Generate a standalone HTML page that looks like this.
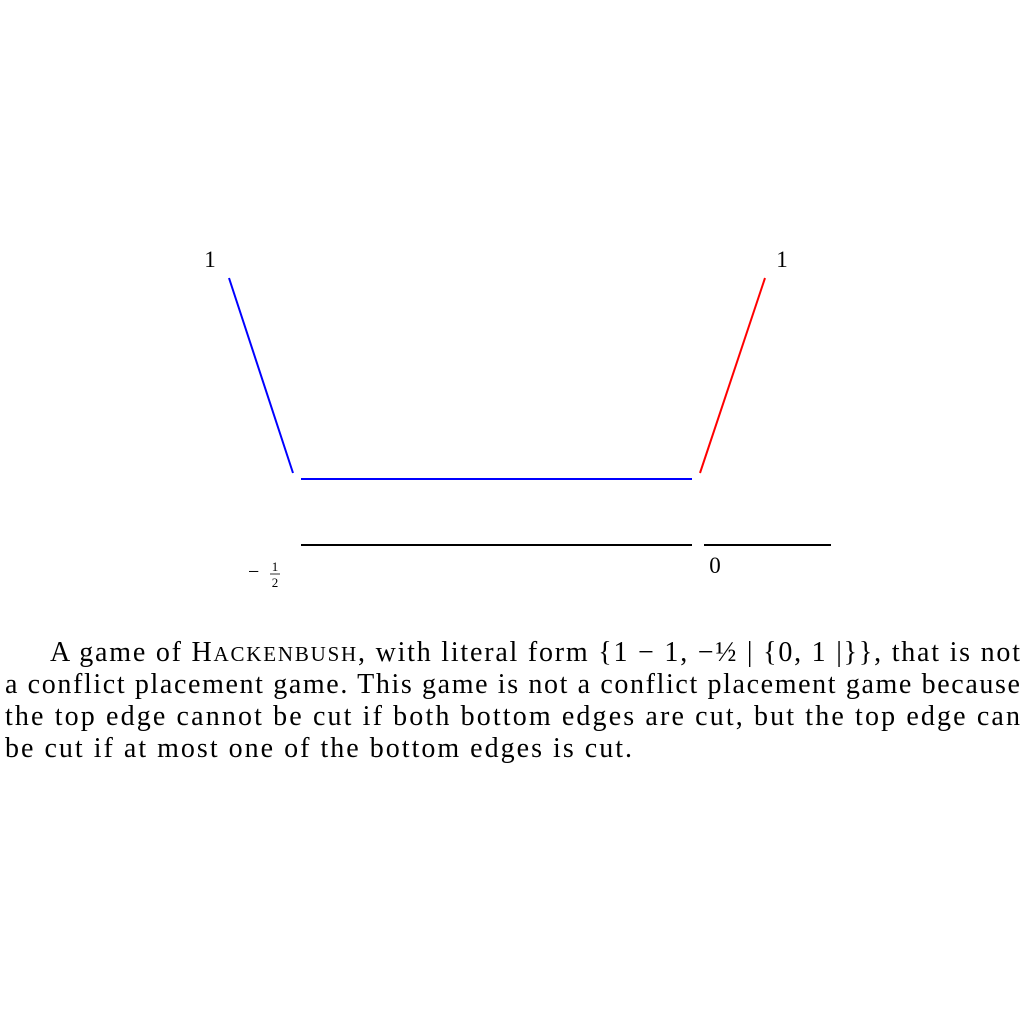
<!DOCTYPE html>
<html><head><meta charset="utf-8"><style>
html,body{margin:0;padding:0;background:#fff;width:1024px;height:1024px;overflow:hidden}
svg{display:block}
text{font-family:"Liberation Serif",serif;fill:#000}
</style></head><body>
<svg width="1024" height="1024" viewBox="0 0 1024 1024">
<line x1="229" y1="278" x2="293" y2="473" stroke="#0000ff" stroke-width="2"/>
<line x1="301" y1="479" x2="692" y2="479" stroke="#0000ff" stroke-width="2"/>
<line x1="765" y1="278" x2="700" y2="473" stroke="#ff0000" stroke-width="2"/>
<line x1="301" y1="545" x2="692" y2="545" stroke="#000" stroke-width="2"/>
<line x1="704" y1="545" x2="831" y2="545" stroke="#000" stroke-width="2"/>
<text x="210" y="267" font-size="23" text-anchor="middle">1</text>
<text x="782" y="267" font-size="23" text-anchor="middle">1</text>
<g>
<text x="248" y="578" font-size="20">−</text>
<text x="275" y="571" font-size="13" text-anchor="middle">1</text>
<line x1="270" y1="574" x2="280" y2="574" stroke="#000" stroke-width="0.8"/>
<text x="275" y="587" font-size="13" text-anchor="middle">2</text>
</g>
<text x="715" y="573" font-size="23" text-anchor="middle">0</text>
<g font-size="28">
<text x="50" y="661" textLength="970" lengthAdjust="spacing">A game of H<tspan font-size="21">ACKENBUSH</tspan>, with literal form {1 − 1, −½ | {0, 1 |}}, that is not</text>
<text x="5" y="693" textLength="1015" lengthAdjust="spacing">a conflict placement game. This game is not a conflict placement game because</text>
<text x="5" y="725" textLength="1015" lengthAdjust="spacing">the top edge cannot be cut if both bottom edges are cut, but the top edge can</text>
<text x="5" y="757" textLength="627" lengthAdjust="spacing">be cut if at most one of the bottom edges is cut.</text>
</g>
</svg>
</body></html>
